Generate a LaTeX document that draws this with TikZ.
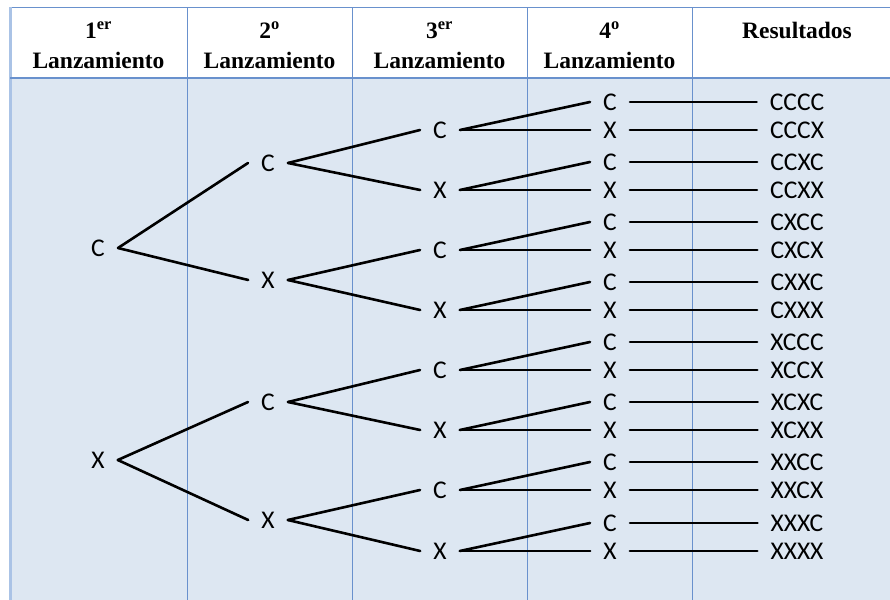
\documentclass[tikz,border=0pt]{standalone}
\usepackage{fontspec}
\setmainfont{Liberation Serif}
\newfontfamily\tossfont{Carlito}
\definecolor{gridblue}{RGB}{105,145,205}
\definecolor{edgeblue}{RGB}{170,195,230}
\definecolor{cellblue}{RGB}{221,231,242}
\tikzset{
  head/.style={anchor=base, inner sep=0pt,
    font=\fontsize{23.5}{28}\selectfont\bfseries},
  toss/.style={inner xsep=13pt, inner ysep=1pt,
    font=\fontsize{25.5}{30}\selectfont\tossfont},
  branch/.style={line width=2.6pt, line cap=round},
  gridline/.style={draw=gridblue, line width=1pt}
}

\begin{document}
\begin{tikzpicture}[x=1pt,y=-1pt]
  \useasboundingbox (0,0) rectangle (890,599);
  % table
  \fill[white] (0,0) rectangle (890,599);
  \fill[cellblue] (10,78) rectangle (902,610);
  \draw[gridline] (10,8) -- (902,8);
  \foreach \x in {187,352,527,692}
    \draw[gridline] (\x,8) -- (\x,610);
  \draw[draw=edgeblue, line width=3pt] (10,7) -- (10,610);
  \draw[gridline, line width=2.5pt] (10,78) -- (902,78);

  % headings
  \node[head] (h1) at (98.5,39) {1\textsuperscript{er}};
  \node[head] (h1b) at (98.5,69) {Lanzamiento};
  \node[head] (h2) at (269.5,39) {2\textsuperscript{o}};
  \node[head] (h2b) at (269.5,69) {Lanzamiento};
  \node[head] (h3) at (439.5,39) {3\textsuperscript{er}};
  \node[head] (h3b) at (439.5,69) {Lanzamiento};
  \node[head] (h4) at (609.5,39) {4\textsuperscript{o}};
  \node[head] (h4b) at (609.5,69) {Lanzamiento};
  \node[head] (h5) at (797,39) {Resultados};

  % first and second toss
  \node[toss] (c) at (98,248) {C};
  \node[toss] (x) at (98,460) {X};
  \node[toss] (cc) at (268,163) {C};
  \node[toss] (cx) at (268,280) {X};
  \node[toss] (xc) at (268,402) {C};
  \node[toss] (xx) at (268,520) {X};
  \draw[branch] (c.east) -- (cc.west);
  \draw[branch] (c.east) -- (cx.west);
  \draw[branch] (x.east) -- (xc.west);
  \draw[branch] (x.east) -- (xx.west);

  % third toss
  \foreach \p/\s/\l/\y in {cc/ccc/C/130, cc/ccx/X/190, cx/cxc/C/250, cx/cxx/X/310,
                           xc/xcc/C/370, xc/xcx/X/430, xx/xxc/C/490, xx/xxx/X/551} {
    \node[toss] (\s) at (440,\y) {\l};
    \draw[branch] (\p.east) -- (\s.west);
  }

  % fourth toss and results
  \foreach \p/\q/\y in {ccc/CCC/130, ccx/CCX/190, cxc/CXC/250, cxx/CXX/310,
                        xcc/XCC/370, xcx/XCX/430, xxc/XXC/490, xxx/XXX/551} {
    \node[toss] (\p c) at (610,\y-28) {C};
    \node[toss] (\p x) at (610,\y) {X};
    \node[toss] (r\p c) at (797,\y-28) {\q C};
    \node[toss] (r\p x) at (797,\y) {\q X};
    \draw[branch] (\p.east) -- (\p c.west);
    \draw[branch] (\p.east) -- (\p x.west);
    \draw[branch] (\p c.east) -- (r\p c.west);
    \draw[branch] (\p x.east) -- (r\p x.west);
  }
\end{tikzpicture}
\end{document}
